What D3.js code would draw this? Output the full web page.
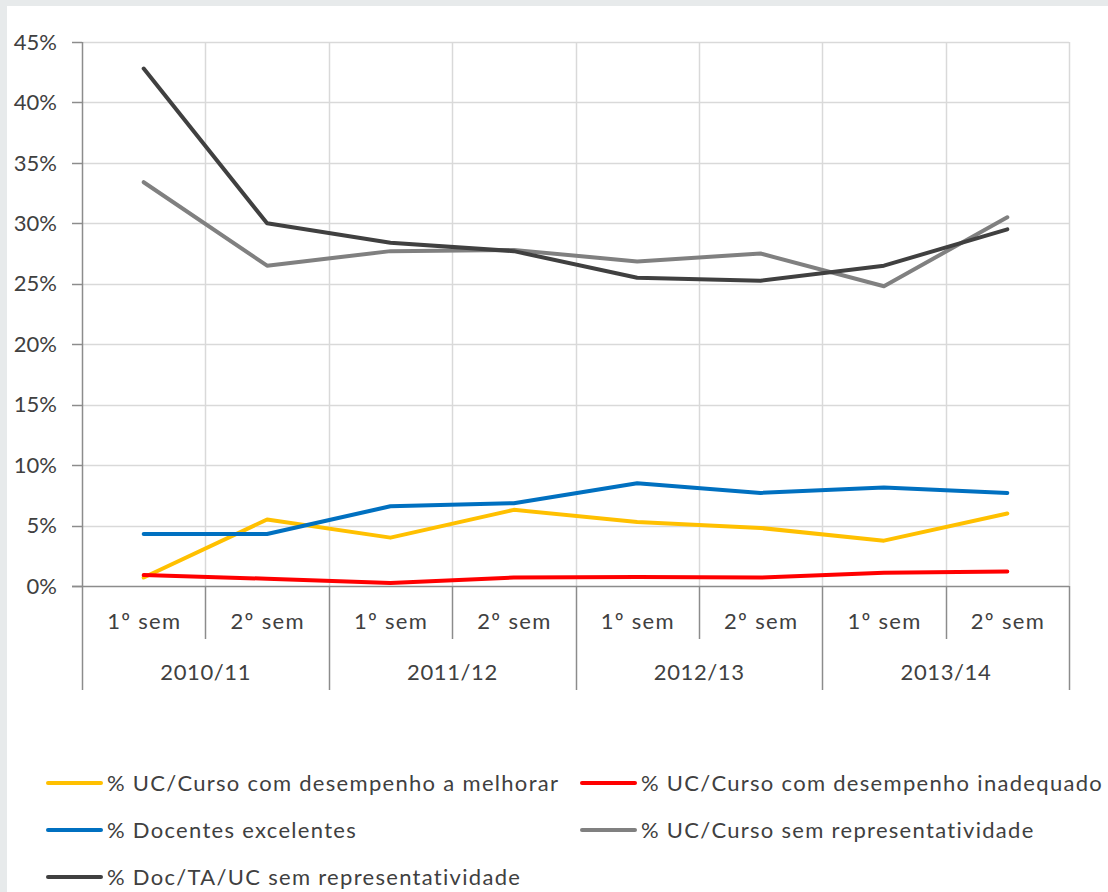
<!DOCTYPE html>
<html>
<head>
<meta charset="utf-8">
<script src="https://cdn.jsdelivr.net/npm/d3@7"></script>
<style>
  html, body { margin: 0; padding: 0; background: #e7eaeb; }
  svg { display: block; }
  text { font-family: Lato, "Liberation Sans", sans-serif; fill: #404040; }
</style>
</head>
<body>
<div id="chart"></div>
<script>
// categories
var years = ['2010/11', '2011/12', '2012/13', '2013/14']
var semesters = ['1º sem', '2º sem']
var yTicks = [0, 5, 10, 15, 20, 25, 30, 35, 40, 45]

// series values (%), one per semester
var melhorar = [0.7, 5.5, 4.0, 6.3, 5.3, 4.8, 3.75, 6.0]
var inadequado = [0.9, 0.6, 0.25, 0.7, 0.75, 0.7, 1.1, 1.2]
var excelentes = [4.3, 4.3, 6.6, 6.85, 8.5, 7.7, 8.15, 7.7]
var ucSemRep = [33.4, 26.5, 27.7, 27.8, 26.85, 27.5, 24.8, 30.5]
var docSemRep = [42.8, 30.0, 28.4, 27.7, 25.5, 25.25, 26.5, 29.5]

var seriesNames = [
  '% UC/Curso com desempenho a melhorar',
  '% UC/Curso com desempenho inadequado',
  '% Docentes excelentes',
  '% UC/Curso sem representatividade',
  '% Doc/TA/UC sem representatividade'
]
var seriesColors = ['#ffc000', '#ff0000', '#0070c0', '#808080', '#404040']
var seriesValues = [melhorar, inadequado, excelentes, ucSemRep, docSemRep]

var W = 1108
var H = 892
var LEFT = 82
var RIGHT = 1069
var TOP = 42
var BOTTOM = 586
var GRID = '#d9d9d9'
var AXIS = '#8c8c8c'

// one key per semester, grouped by year
var cats = []
years.forEach(function (y) {
  semesters.forEach(function (s) { cats.push(y + '|' + s) })
})

var x = d3.scaleBand().domain(cats).range([LEFT, RIGHT]).padding(0)
var y = d3.scaleLinear().domain([0, 45]).range([BOTTOM, TOP])
var yearX = d3.scaleBand().domain(years).range([LEFT, RIGHT]).padding(0)

var svg = d3.select('#chart').append('svg')
  .attr('width', W)
  .attr('height', H)

svg.append('rect')
  .attr('x', 7).attr('y', 6)
  .attr('width', W - 7).attr('height', H - 6)
  .attr('fill', '#ffffff')

//
// Grid
//
svg.append('g').selectAll('line').data(yTicks.filter(function (d) { return d > 0 }))
  .enter().append('line')
  .attr('x1', LEFT).attr('x2', RIGHT)
  .attr('y1', function (d) { return Math.round(y(d)) + 0.5 })
  .attr('y2', function (d) { return Math.round(y(d)) + 0.5 })
  .attr('stroke', GRID).attr('stroke-width', 1.5)

svg.append('g').selectAll('line').data(cats)
  .enter().append('line')
  .attr('x1', function (d) { return Math.round(x(d) + x.bandwidth()) + 0.5 })
  .attr('x2', function (d) { return Math.round(x(d) + x.bandwidth()) + 0.5 })
  .attr('y1', TOP).attr('y2', BOTTOM)
  .attr('stroke', GRID).attr('stroke-width', 1.5)

//
// Y axis
//
var yAxis = svg.append('g')
yAxis.append('line')
  .attr('x1', LEFT + 0.5).attr('x2', LEFT + 0.5)
  .attr('y1', TOP).attr('y2', BOTTOM)
  .attr('stroke', AXIS).attr('stroke-width', 1.5)
yAxis.selectAll('line.tick').data(yTicks).enter().append('line')
  .attr('class', 'tick')
  .attr('x1', LEFT - 10).attr('x2', LEFT)
  .attr('y1', function (d) { return Math.round(y(d)) + 0.5 })
  .attr('y2', function (d) { return Math.round(y(d)) + 0.5 })
  .attr('stroke', AXIS).attr('stroke-width', 1.5)
yAxis.selectAll('text').data(yTicks).enter().append('text')
  .attr('x', 57)
  .attr('y', function (d) { return y(d) })
  .attr('dy', '0.35em')
  .attr('text-anchor', 'end')
  .attr('font-size', 22)
  .text(function (d) { return d + '%' })

//
// X axis: semesters and years
//
var xAxis = svg.append('g')
xAxis.append('line')
  .attr('x1', LEFT - 10).attr('x2', RIGHT)
  .attr('y1', BOTTOM + 0.5).attr('y2', BOTTOM + 0.5)
  .attr('stroke', AXIS).attr('stroke-width', 1.5)

var edges = [LEFT].concat(cats.map(function (d) { return x(d) + x.bandwidth() }))
xAxis.selectAll('line.sep').data(edges).enter().append('line')
  .attr('class', 'sep')
  .attr('x1', function (d) { return Math.round(d) + 0.5 })
  .attr('x2', function (d) { return Math.round(d) + 0.5 })
  .attr('y1', BOTTOM)
  .attr('y2', function (d, i) { return i % 2 === 0 ? 690 : 639 })
  .attr('stroke', AXIS).attr('stroke-width', 1.5)

xAxis.selectAll('text.sem').data(cats).enter().append('text')
  .attr('class', 'sem')
  .attr('x', function (d) { return x(d) + x.bandwidth() / 2 + 0.6 })
  .attr('y', 629)
  .attr('text-anchor', 'middle')
  .attr('font-size', 22)
  .attr('letter-spacing', 1.3)
  .text(function (d) { return d.split('|')[1] })

xAxis.selectAll('text.year').data(years).enter().append('text')
  .attr('class', 'year')
  .attr('x', function (d) { return yearX(d) + yearX.bandwidth() / 2 + 0.3 })
  .attr('y', 680)
  .attr('text-anchor', 'middle')
  .attr('font-size', 22)
  .attr('letter-spacing', 0.6)
  .text(function (d) { return d })

//
// Lines
//
var line = d3.line()
  .x(function (d, i) { return x(cats[i]) + x.bandwidth() / 2 })
  .y(function (d) { return y(d) })

svg.append('g').selectAll('path').data(seriesValues).enter().append('path')
  .attr('d', line)
  .attr('fill', 'none')
  .attr('stroke', function (d, i) { return seriesColors[i] })
  .attr('stroke-width', 4)
  .attr('stroke-linejoin', 'round')
  .attr('stroke-linecap', 'round')

//
// Legend
//
var legendPos = [
  { x: 48, y: 783 }, { x: 582, y: 783 },
  { x: 48, y: 830 }, { x: 582, y: 830 },
  { x: 48, y: 877 }
]
var legend = svg.append('g').selectAll('g').data(seriesNames).enter().append('g')
  .attr('transform', function (d, i) { return 'translate(' + legendPos[i].x + ',' + legendPos[i].y + ')' })
legend.append('line')
  .attr('x1', 0).attr('x2', 53)
  .attr('stroke', function (d, i) { return seriesColors[i] })
  .attr('stroke-width', 4)
  .attr('stroke-linecap', 'round')
legend.append('text')
  .attr('x', 59)
  .attr('dy', '0.35em')
  .attr('font-size', 22)
  .attr('letter-spacing', 1.3)
  .text(function (d) { return d })
</script>
</body>
</html>
